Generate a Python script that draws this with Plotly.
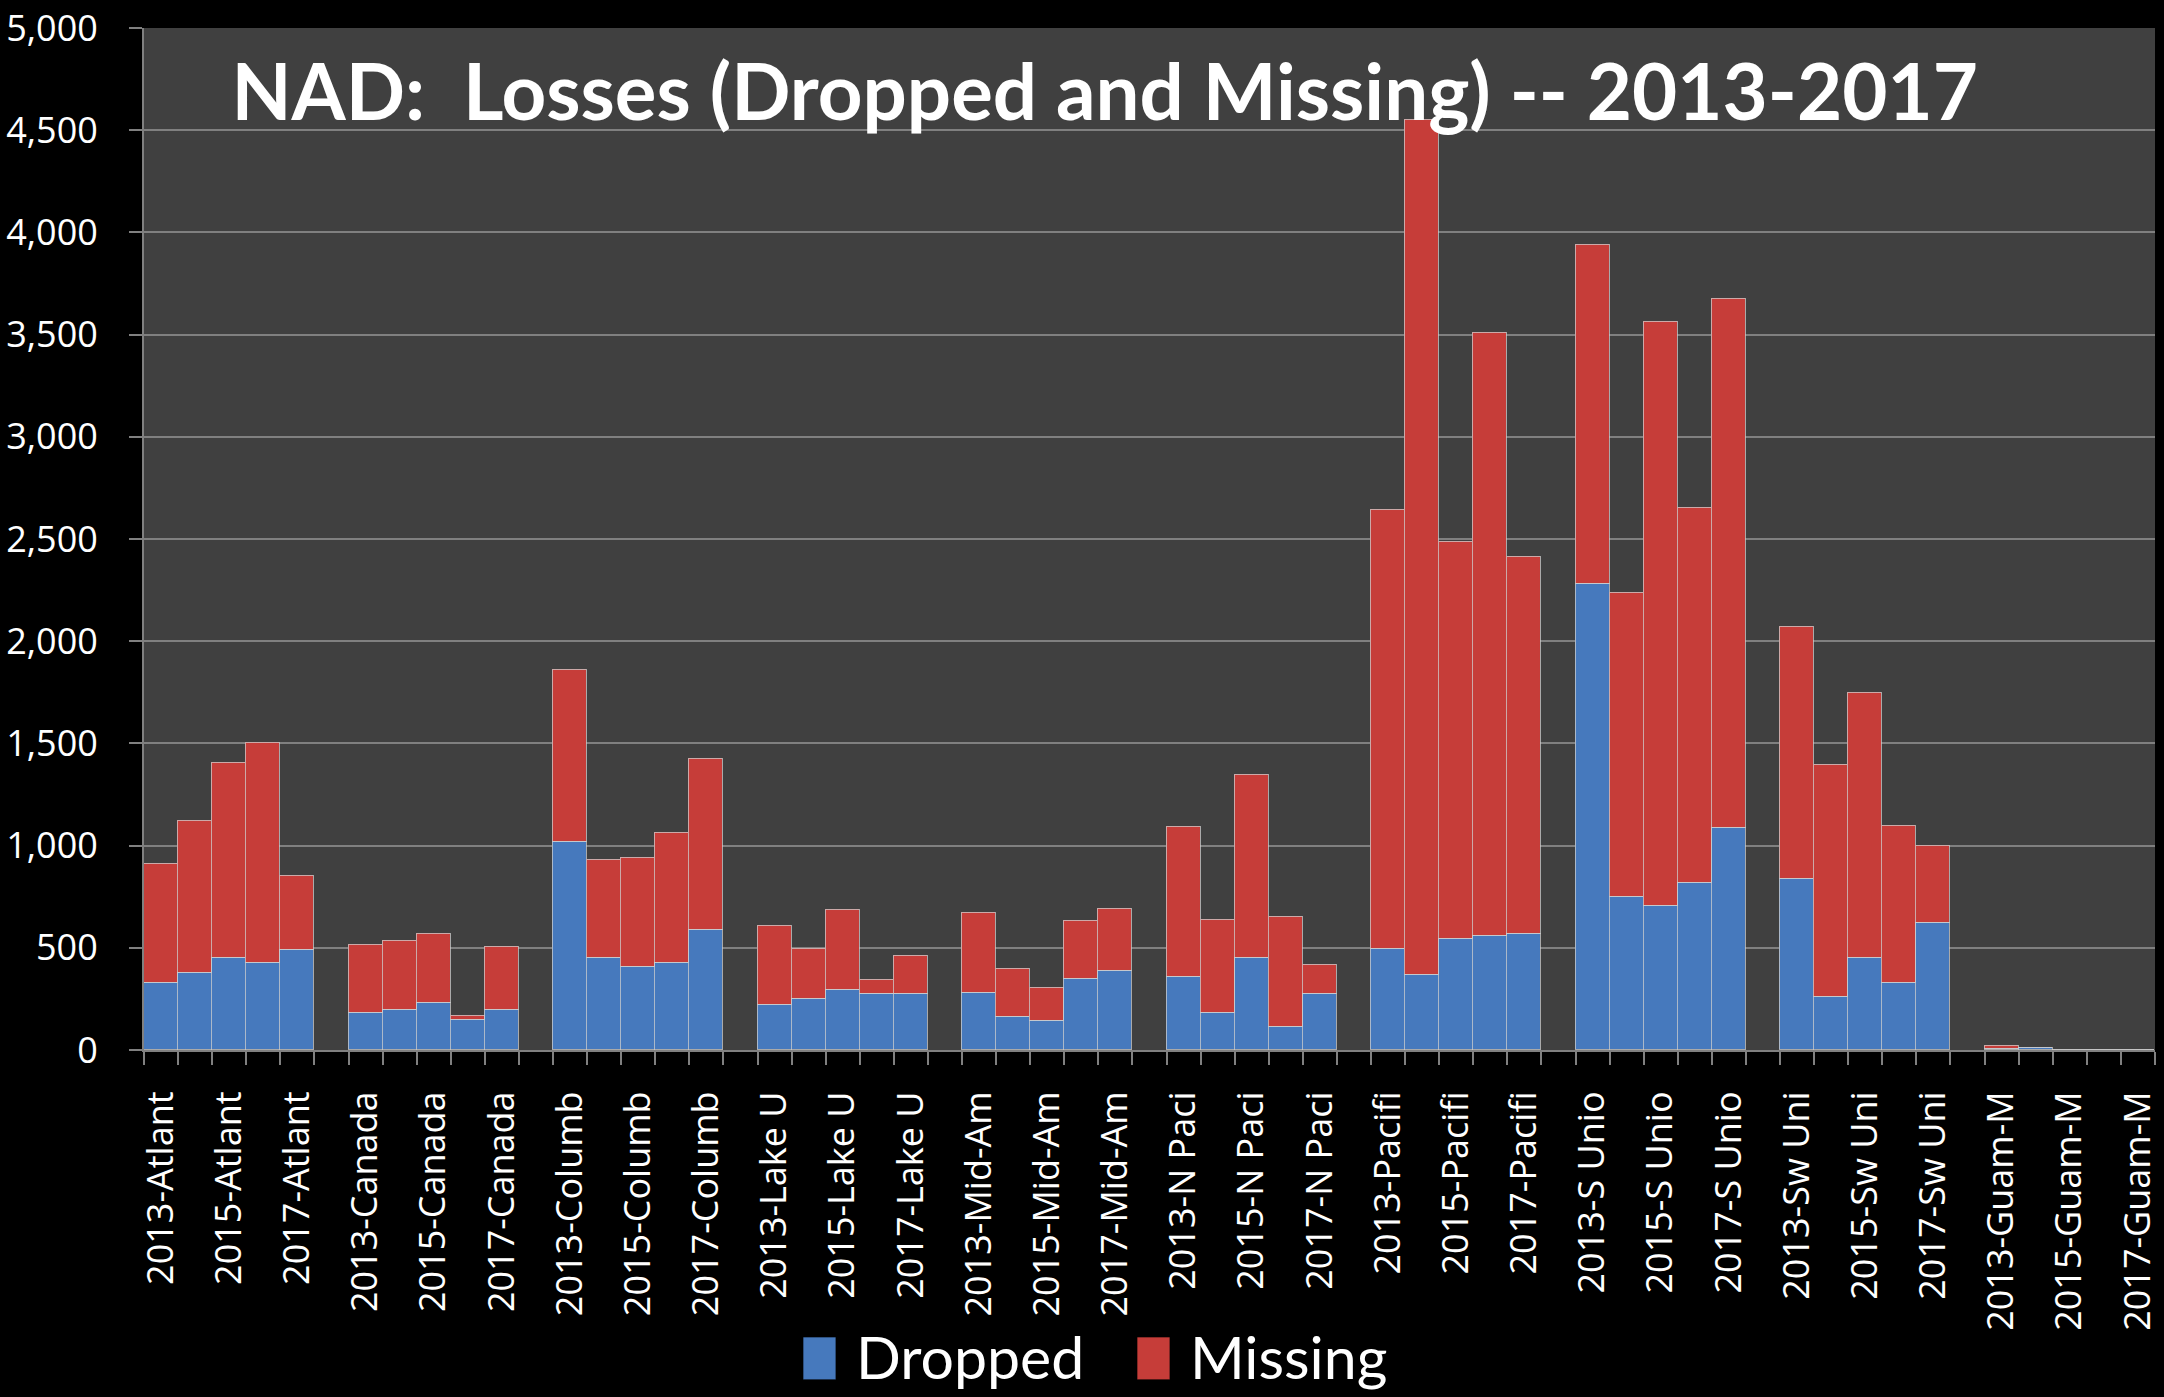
import plotly.graph_objects as go

groups = ["Atlant", "Canada", "Columb", "Lake U", "Mid-Am", "N Paci", "Pacifi", "S Unio", "Sw Uni", "Guam-M"]
years = [2013, 2014, 2015, 2016, 2017]

dropped = [
    [328, 375, 448, 428, 489],     # Atlant
    [181, 194, 228, 147, 194],     # Canada
    [1017, 448, 408, 428, 589],    # Columb
    [221, 248, 295, 274, 274],     # Lake U
    [281, 161, 141, 348, 388],     # Mid-Am
    [355, 181, 448, 114, 274],     # N Paci
    [495, 368, 542, 556, 569],     # Pacifi
    [2282, 750, 703, 817, 1084],   # S Unio
    [837, 261, 448, 328, 622],     # Sw Uni
    [3, 8, 2, 1, 0],               # Guam-M
]
missing = [
    [582, 743, 957, 1072, 361],
    [334, 341, 341, 20, 308],
    [844, 482, 529, 636, 837],
    [388, 247, 388, 67, 188],
    [388, 234, 160, 281, 301],
    [736, 455, 897, 535, 141],
    [2149, 4183, 1941, 2951, 1841],
    [1654, 1486, 2858, 1834, 2591],
    [1231, 1131, 1299, 770, 375],
    [17, 2, 0, 0, 1],
]
series_names = ["Dropped", "Missing"]

SLOTS = len(years) + 1  # one empty slot between groups

xs, d_vals, m_vals, names = [], [], [], []
for g, grp in enumerate(groups):
    for yi, yr in enumerate(years):
        xs.append(g * SLOTS + yi)
        d_vals.append(dropped[g][yi])
        m_vals.append(missing[g][yi])
        names.append(f"{yr}-{grp}")

n_slots = len(groups) * SLOTS - 1
tickvals = [x for x in xs if x % 2 == 0]
ticktext = [names[xs.index(x)] for x in tickvals]

BLUE = "#4679bd"
RED = "#c63d39"
edge = dict(color="rgba(205,205,205,0.75)", width=1.2)

fig = go.Figure()
fig.add_trace(go.Bar(x=xs, y=d_vals, name=series_names[0], marker=dict(color=BLUE, line=edge),
                     customdata=names, hovertemplate="%{customdata}<br>Dropped: %{y:,}<extra></extra>"))
fig.add_trace(go.Bar(x=xs, y=m_vals, name=series_names[1], marker=dict(color=RED, line=edge),
                     customdata=names, hovertemplate="%{customdata}<br>Missing: %{y:,}<extra></extra>"))

# Plot area geometry (pixels) used to place the hand-drawn legend
W, H = 2164, 1397
L, R, T, B = 144, 3, 21, 347
pw, ph = W - L - R, H - T - B


def px_x(px):
    return (px - L) / pw


def px_y(py):
    return (H - B - py) / ph


legend_items = [(series_names[0], BLUE, 805), (series_names[1], RED, 1140)]
shapes, annotations = [], []
for label, col, x0 in legend_items:
    shapes.append(dict(type="rect", xref="paper", yref="paper",
                       x0=px_x(x0), x1=px_x(x0 + 33), y0=px_y(1382), y1=px_y(1339),
                       fillcolor=col, line=dict(color="rgba(0,0,0,0.6)", width=1)))
    annotations.append(dict(text=label, xref="paper", yref="paper", x=px_x(x0 + 51), y=px_y(1359),
                            xanchor="left", yanchor="middle", showarrow=False,
                            font=dict(family="Lato, sans-serif", size=59, color="white")))

grid = "#808080"
fig.update_layout(
    width=W, height=H,
    barmode="stack", bargap=0,
    paper_bgcolor="#000000", plot_bgcolor="#404040",
    margin=dict(l=L, r=R, t=T, b=B),
    title=dict(text="<b>NAD:  Losses (Dropped and Missing) -- 2013-2017</b>",
               font=dict(family="Lato, sans-serif", size=78, color="white"),
               xref="paper", yref="paper", x=0.4777, xanchor="center", y=0.937, yanchor="middle"),
    showlegend=False,
    shapes=shapes,
    annotations=annotations,
)
fig.update_yaxes(range=[0, 5000], dtick=500, tickformat=",",
                 tickfont=dict(family="Open Sans, sans-serif", size=36, color="white"),
                 showgrid=True, gridcolor=grid, gridwidth=2,
                 showline=True, linecolor=grid, linewidth=2,
                 ticks="outside", ticklen=13, tickcolor=grid, tickwidth=2,
                 ticklabelstandoff=24, ticklabeloverflow="allow",
                 zeroline=False)
fig.update_xaxes(range=[-0.5, n_slots - 0.5], tickmode="array", tickvals=tickvals, ticktext=ticktext,
                 tickangle=-90,
                 tickfont=dict(family="Open Sans, sans-serif", size=36, color="white"),
                 showgrid=False, zeroline=False,
                 showline=True, linecolor=grid, linewidth=2,
                 ticks="outside", ticklen=13, tickcolor="rgba(0,0,0,0)",
                 ticklabelstandoff=12, ticklabeloverflow="allow",
                 minor=dict(tickmode="array", tickvals=[k - 0.5 for k in range(n_slots + 1)],
                            ticks="outside", ticklen=13, tickcolor=grid, tickwidth=2, showgrid=False))

fig.write_html("out.html", config={"displayModeBar": False},
               post_script="document.body.style.margin='0px';document.body.style.overflow='hidden';"
                           "document.body.style.background='#000';")
